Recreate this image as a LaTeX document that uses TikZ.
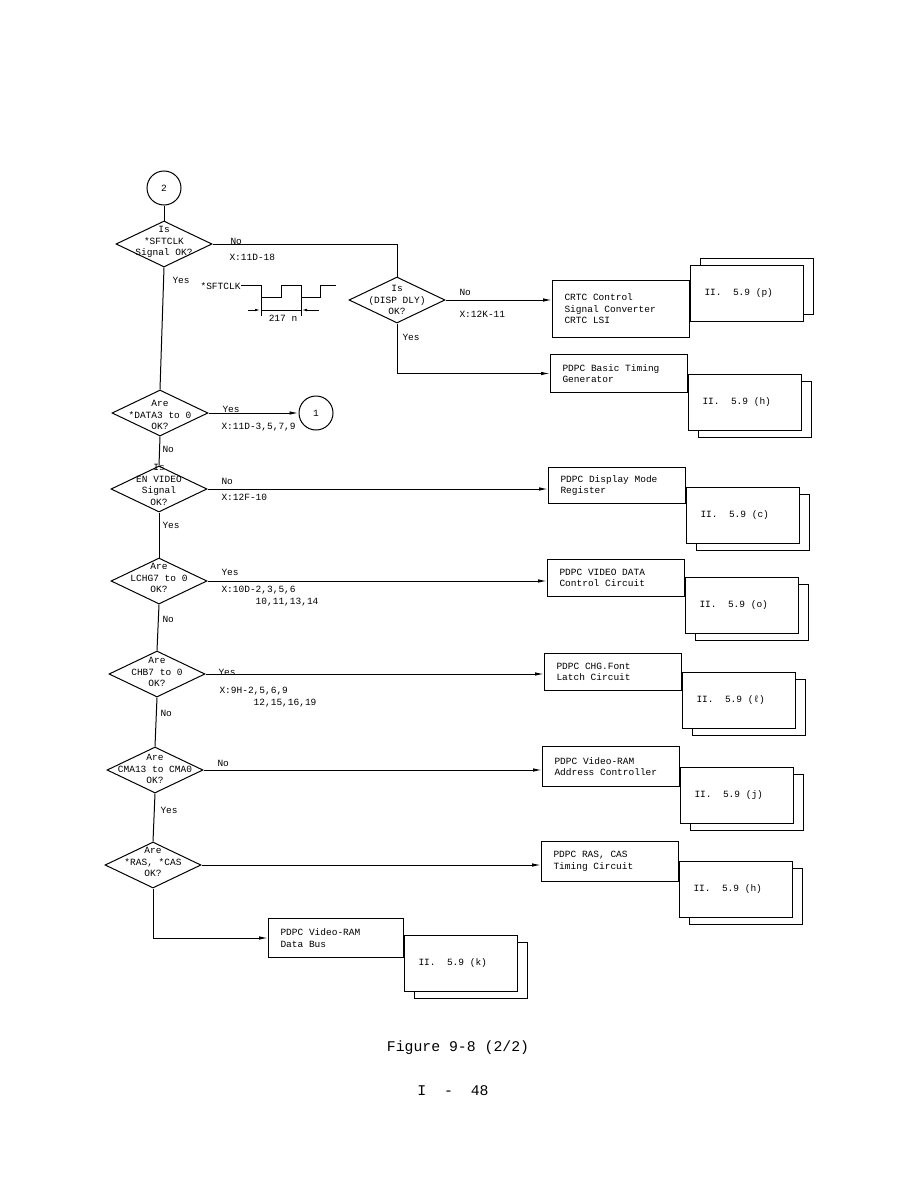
\documentclass[tikz,border=0pt]{standalone}
\usepackage{fontspec}
\setmainfont{Liberation Mono}
\usetikzlibrary{shapes.geometric, arrows.meta, positioning, shadows}
\tikzset{
    ask/.style={diamond, draw, minimum width=96pt, minimum height=46pt, inner sep=0pt},
    asktxt/.style={align=center, inner sep=0pt, font=\fontsize{9.5}{11.5}\selectfont},
    box/.style={rectangle, draw, fill=white, anchor=north west, minimum width=137pt, minimum height=38pt, text width=113pt, inner xsep=12pt, align=left, font=\fontsize{9.5}{11.5}\selectfont, execute at begin node={\spaceskip=0pt\xspaceskip=0pt\relax}},
    refbox/.style={rectangle, draw, fill=white, minimum width=113pt, minimum height=56pt, text width=85pt, inner xsep=14pt, align=left, font=\fontsize{9.5}{11.5}\selectfont, execute at begin node={\spaceskip=0pt\xspaceskip=0pt\relax}, copy shadow={shadow xshift=10pt, shadow yshift=#1}},
    refbox/.default=-7pt,
    conn/.style={circle, draw, minimum size=34pt, inner sep=0pt, font=\fontsize{9.5}{11.5}\selectfont},
    lbl/.style={anchor=west, inner sep=0pt, align=left, font=\fontsize{9.5}{11.5}\selectfont},
    captxt/.style={inner sep=0pt, font=\fontsize{14.8}{17}\selectfont},
    arr/.style={-{Latex[length=9pt, width=3.5pt]}},
    dimarr/.style={-{Latex[length=6pt, width=2.5pt]}},
}

\begin{document}
\begin{tikzpicture}[x=1pt, y=-1pt, line width=1pt]
\useasboundingbox (0,0) rectangle (919,1188);

% Entry
\node[conn] (c2) at (164,188) {2};

% *SFTCLK check
\node[ask] (q1) at (164,244) {};
\node[asktxt] (q1t) at (164,242) {Is\\*SFTCLK\\Signal OK?};
\node[lbl] (q1no) at (230,241) {No};
\node[lbl] (q1x) at (229,257) {X:11D-18};
\node[lbl] (q1yes) at (172,280) {Yes};

% *SFTCLK waveform
\node[lbl, anchor=east] (wlab) at (241,286) {*SFTCLK};
\draw (241,285) -- (261,285) -- (261,297) -- (281,297) -- (281,285) -- (301,285)
      -- (301,297) -- (320,297) -- (320,285) -- (336,285);
\draw (261,297) -- (261,316);
\draw (301,297) -- (301,316);
\draw[dimarr] (248,310) -- (261,310);
\draw[dimarr] (319,310) -- (301,310);
\draw (261,310) -- (301,310);
\node[lbl, anchor=center] (wper) at (283,318) {217 n};

% (DISP DLY) check
\node[ask] (dly) at (397,300) {};
\node[asktxt] (dlyt) at (397,300) {Is\\(DISP DLY)\\OK?};
\node[lbl] (dlyno) at (459,292) {No};
\node[lbl] (dlyx) at (459,314) {X:12K-11};
\node[lbl] (dlyyes) at (402,337) {Yes};

\node[box, minimum height=57pt] (crtc) at (552,280) {CRTC Control\\Signal Converter\\CRTC LSI};
\node[refbox=7pt, anchor=north west] (rp) at ([yshift=15pt]crtc.north east) {II.\ \ 5.9 (p)};

\node[box] (timing) at (550,354) {PDPC Basic Timing\\Generator};
\node[refbox, below right=20pt and 0pt of timing.north east] (rh) {II.\ \ 5.9 (h)};

% *DATA3 to 0
\node[ask] (q2) at (160,413) {};
\node[asktxt] (q2t) at (160,415) {Are\\*DATA3 to 0\\OK?};
\node[conn] (c1) at (316,413) {1};
\node[lbl] (q2yes) at (222,409) {Yes};
\node[lbl] (q2x) at (221,427) {X:11D-3,5,7,9};
\node[lbl] (q2no) at (162,449) {No};

% EN VIDEO
\node[ask] (q3) at (159,489) {};
\node[asktxt] (q3t) at (159,485) {Is\\EN VIDEO\\Signal\\OK?};
\node[lbl] (q3no) at (221,481) {No};
\node[lbl] (q3x) at (221,497) {X:12F-10};
\node[lbl] (q3yes) at (162,525) {Yes};

\node[box, minimum height=36pt] (mode) at (548,467) {PDPC Display Mode\\Register};
\node[refbox, below right=20pt and 0pt of mode.north east] (rc) {II.\ \ 5.9 (c)};

% LCHG7 to 0
\node[ask] (q4) at (159,581) {};
\node[asktxt] (q4t) at (159,578) {Are\\LCHG7 to 0\\OK?};
\node[lbl] (q4yes) at (221,572) {Yes};
\node[lbl] (q4x) at (221,596) {X:10D-2,3,5,6\\\phantom{X:10D-}10,11,13,14};
\node[lbl] (q4no) at (162,619) {No};

\node[box, minimum height=37pt] (vdata) at (547,559) {PDPC VIDEO DATA\\Control Circuit};
\node[refbox, below right=18pt and 0pt of vdata.north east] (ro) {II.\ \ 5.9 (o)};

% CHB7 to 0
\node[ask] (q5) at (157,674) {};
\node[asktxt] (q5t) at (157,672) {Are\\CHB7 to 0\\OK?};
\node[lbl] (q5yes) at (218,672) {Yes};
\node[lbl] (q5x) at (219,697) {X:9H-2,5,6,9\\\phantom{X:9H-2}12,15,16,19};
\node[lbl] (q5no) at (160,713) {No};

\node[box, minimum height=37pt] (font) at (544,653) {PDPC CHG.Font\\Latch Circuit};
\node[refbox, below right=19pt and 0pt of font.north east] (rl) {II.\ \ 5.9 (ℓ)};

% CMA13 to CMA0
\node[ask] (q6) at (155,770) {};
\node[asktxt] (q6t) at (155,769) {Are\\CMA13 to CMA0\\OK?};
\node[lbl] (q6no) at (217,763) {No};
\node[lbl] (q6yes) at (160,810) {Yes};

\node[box, minimum height=40pt] (addr) at (542,746) {PDPC Video-RAM\\Address Controller};
\node[refbox, below right=21pt and 0pt of addr.north east] (rj) {II.\ \ 5.9 (j)};

% *RAS, *CAS
\node[ask] (q7) at (153,865) {};
\node[asktxt] (q7t) at (153,862) {Are\\*RAS, *CAS\\OK?};

\node[box, minimum height=40pt] (rascas) at (541,841) {PDPC RAS, CAS\\Timing Circuit};
\node[refbox, below right=20pt and 0pt of rascas.north east] (rh2) {II.\ \ 5.9 (h)};

\node[box, minimum height=39pt, minimum width=135pt, text width=111pt] (dbus) at (268,918) {PDPC Video-RAM\\Data Bus};
\node[refbox, below right=17pt and 0pt of dbus.north east] (rk) {II.\ \ 5.9 (k)};

% Caption
\node[captxt] (figcap) at (458,1048) {Figure 9-8 (2/2)};
\node[captxt] (pgno) at (453,1091) {I\ \ -\ \ 48};

% Arrows
\draw (c2) -- (q1);
\draw (q1.east) -| (dly.north);
\draw[arr] (dly.east) -- (dly.east -| crtc.west);
\draw[arr] (dly.south) |- (timing.west);
\draw (q1.south) -- (q2.north);
\draw[arr] (q2.east) -- (c1.west);
\draw (q2.south) -- (q3.north);
\draw[arr] (q3.east) -- (q3.east -| mode.west);
\draw (q3.south) -- (q4.north);
\draw[arr] (q4.east) -- (q4.east -| vdata.west);
\draw (q4.south) -- (q5.north);
\draw[arr] (q5.east) -- (q5.east -| font.west);
\draw (q5.south) -- (q6.north);
\draw[arr] (q6.east) -- (q6.east -| addr.west);
\draw (q6.south) -- (q7.north);
\draw[arr] (q7.east) -- (q7.east -| rascas.west);
\draw[arr] (q7.south) |- (dbus.west);

\end{tikzpicture}
\end{document}
